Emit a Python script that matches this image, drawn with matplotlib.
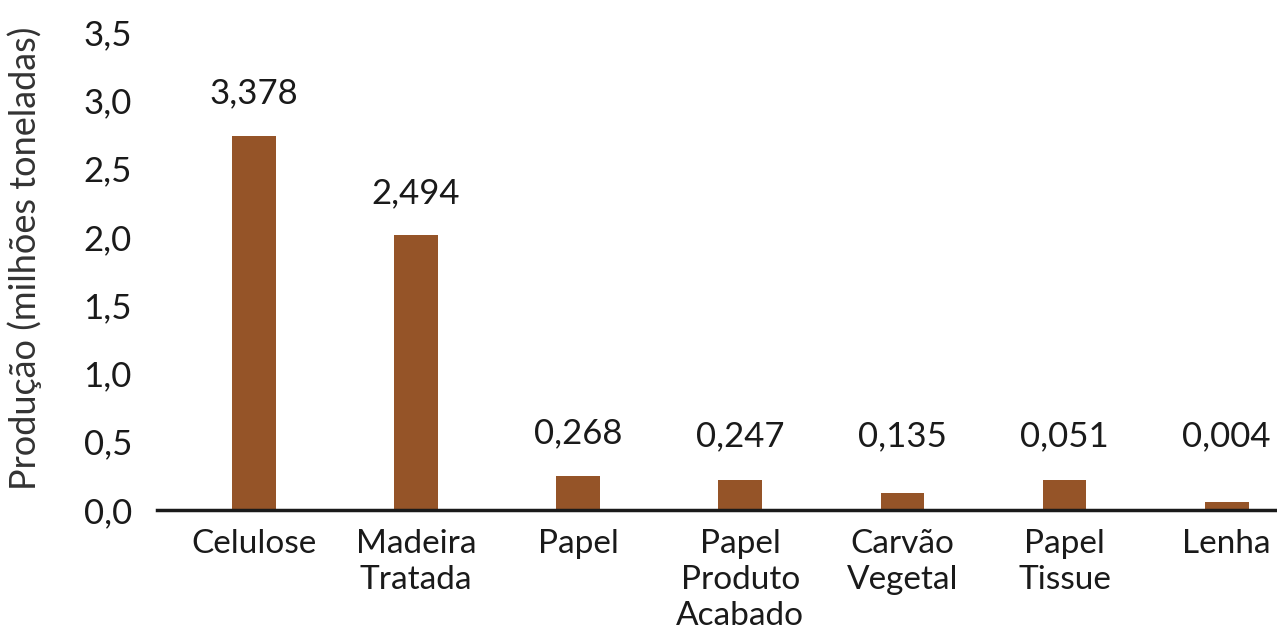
import matplotlib
matplotlib.use("Agg")
import matplotlib.pyplot as plt

categories = ["Celulose", "Madeira\nTratada", "Papel", "Papel\nProduto\nAcabado",
              "Carvão\nVegetal", "Papel\nTissue", "Lenha"]
bar_values = [2.74, 2.01, 0.25, 0.22, 0.125, 0.22, 0.06]
value_labels = ["3,378", "2,494", "0,268", "0,247", "0,135", "0,051", "0,004"]
yticks = [0.0, 0.5, 1.0, 1.5, 2.0, 2.5, 3.0, 3.5]
ytick_labels = ["0,0", "0,5", "1,0", "1,5", "2,0", "2,5", "3,0", "3,5"]

plt.rcParams['font.family'] = ['Lato', 'DejaVu Sans']
plt.rcParams['font.weight'] = 'normal'

TXT = "#1a1a1a"
fig = plt.figure(figsize=(12.77, 6.35), dpi=100)
ax = fig.add_axes([157/1277, 125/635, 1 - 157/1277, (510-32)/635])

x = list(range(len(categories)))
ax.bar(x, bar_values, width=0.27, color="#955428", zorder=2)

for xi, h, lab in zip(x, bar_values, value_labels):
    ax.text(xi, max(h + 0.31, 0.54), lab, ha="center", va="center",
            fontsize=25, color=TXT)

ax.set_xlim(-0.598, 6.31)
ax.set_ylim(0, 3.5)
ax.set_yticks(yticks)
ax.set_yticklabels(ytick_labels, fontsize=25, color=TXT)
ax.set_xticks(x)
ax.set_xticklabels(categories, fontsize=24, color=TXT, linespacing=1.25)
ax.tick_params(axis="both", length=0)
ax.tick_params(axis="y", pad=18)
ax.tick_params(axis="x", pad=14)

for s in ["top", "right", "left"]:
    ax.spines[s].set_visible(False)
ax.spines["bottom"].set_linewidth(2.5)
ax.spines["bottom"].set_color(TXT)

fig.text(25/1277, 1 - 258/635, "Produção (milhões toneladas)", rotation=90,
         ha="center", va="center", fontsize=26, color="#333333")

fig.savefig("out.png", dpi=100)
